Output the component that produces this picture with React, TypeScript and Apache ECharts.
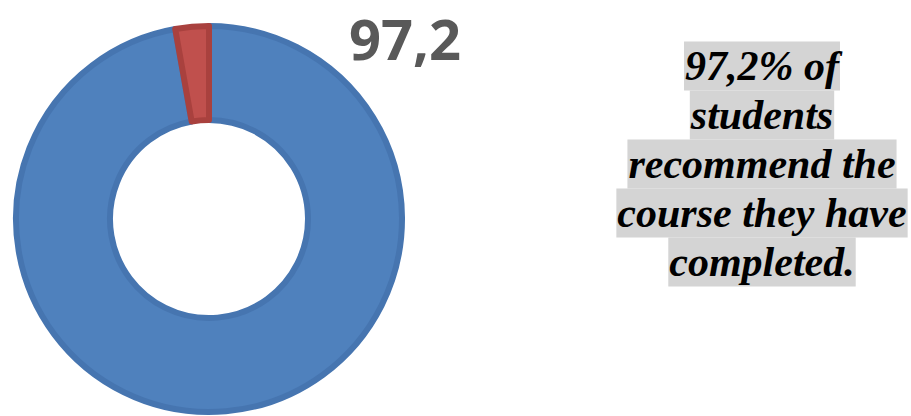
import React, { useEffect, useRef } from "react";
import * as echarts from "echarts";

const categories = ["Recommend", "Do not recommend"];
const values = [97.2, 2.8];
const sliceColors = ["#4F81BD", "#C0504D"];
const sliceBorders = ["#4675B0", "#A9413E"];
const noteLines = ["97,2% of", "students", "recommend the", "course they have", "completed."];

export default function App() {
  const ref = useRef<HTMLDivElement>(null);
  useEffect(() => {
    if (!ref.current) return;
    const chart = echarts.init(ref.current, null, { renderer: "svg" });
    const lineH = 49;
    const firstY = 66;
    chart.setOption({
      animation: false,
      backgroundColor: "#ffffff",
      series: [
        {
          type: "pie",
          center: [209, 219],
          radius: [99, 193],
          startAngle: 90,
          clockwise: true,
          label: { show: false },
          labelLine: { show: false },
          emphasis: { disabled: true },
          data: categories.map((c, i) => ({
            name: c,
            value: values[i],
            itemStyle: { color: sliceColors[i], borderColor: sliceBorders[i], borderWidth: 6 },
          })),
        },
      ],
      graphic: [
        {
          type: "text",
          x: 405,
          y: 38,
          style: {
            text: String(values[0]).replace(".", ","),
            fill: "#595959",
            fontFamily: "Open Sans",
            fontWeight: "bold",
            fontSize: 56,
            textAlign: "center",
            textVerticalAlign: "middle",
          },
        },
        ...noteLines.map((t, i) => ({
          type: "text",
          x: 762,
          y: firstY + i * lineH,
          style: {
            text: t,
            fill: "#000000",
            fontFamily: "Liberation Serif",
            fontStyle: "italic",
            fontWeight: "bold",
            fontSize: 42,
            textAlign: "center",
            textVerticalAlign: "middle",
            lineHeight: lineH,
            backgroundColor: "#D4D4D4",
            padding: [0, 1],
          },
        })),
      ],
    });
    return () => chart.dispose();
  }, []);
  return (
    <div
      ref={ref}
      style={{ position: "fixed", left: 0, top: 0, width: 911, height: 416 }}
    />
  );
}
